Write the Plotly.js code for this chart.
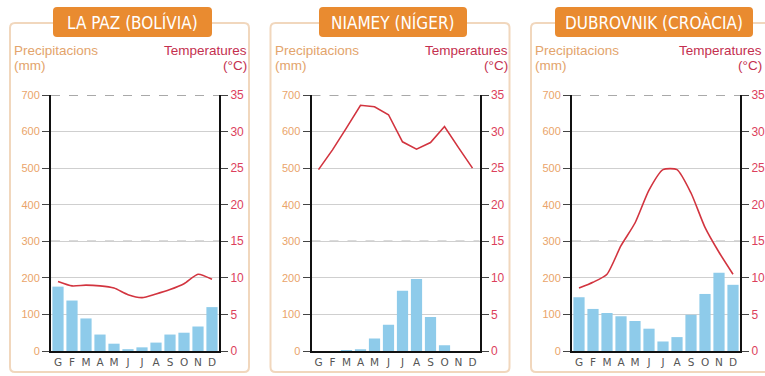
<!DOCTYPE html>
<html><head><meta charset="utf-8">
<script src="https://cdn.plot.ly/plotly-3.0.1.min.js"></script>
<style>html,body{margin:0;padding:0;background:#fff}#c{width:765px;height:376px}</style>
</head><body><div id="c"></div>
<script>
const months = ['G','F','M','A','M','J','J','A','S','O','N','D'];
const cities = ['LA PAZ (BOLÍVIA)','NIAMEY (NÍGER)','DUBROVNIK (CROÀCIA)'];
const precLaPaz = [176,138,89,45,20,5,10,23,45,50,67,120];
const tempLaPaz = [9.5,8.9,9.0,8.9,8.6,7.7,7.3,7.8,8.4,9.2,10.5,9.8];
const precNiamey = [0,0,3,5,34,72,165,197,93,16,0,0];
const tempNiamey = [24.8,27.5,30.5,33.6,33.4,32.3,28.6,27.6,28.5,30.7,27.8,25.0];
const precDubrovnik = [147,115,104,95,82,61,26,38,99,156,214,181];
const tempDubrovnik = [8.6,9.4,10.5,14.4,17.5,22.0,24.8,24.8,21.6,16.9,13.5,10.5];
const precTicks = [0,100,200,300,400,500,600,700];
const tempTicks = [0,5,10,15,20,25,30,35];

const W = 765, H = 376;
const px = x => x / W, py = y => 1 - y / H;
const xIdx = months.map((m, i) => i);
const precs = [precLaPaz, precNiamey, precDubrovnik];
const temps = [tempLaPaz, tempNiamey, tempDubrovnik];
const off = [0, 260.5, 521];

const data = [], layout = {
  width: W, height: H, margin: {l:0,r:0,t:0,b:0}, showlegend: false,
  paper_bgcolor: '#fff', plot_bgcolor: 'rgba(0,0,0,0)',
  shapes: [], annotations: [], bargap: 0.2
};
const narrow = 'DejaVu Sans Condensed, Liberation Sans Narrow, Liberation Sans, sans-serif';
const plain = 'Liberation Sans, Arial, sans-serif';

for (let p = 0; p < 3; p++) {
  const o = off[p];
  const xa = p === 0 ? 'x' : 'x' + (p + 1);
  const yL = 'y' + (p === 0 ? '' : (2 * p + 1));
  const yR = 'y' + (2 * p + 2);
  const xKey = 'xaxis' + (p === 0 ? '' : p + 1);
  const yLKey = 'yaxis' + (p === 0 ? '' : 2 * p + 1);
  const yRKey = 'yaxis' + (2 * p + 2);
  data.push({type:'bar', x:xIdx, y:precs[p], xaxis:xa, yaxis:yL,
    marker:{color:'#8ecbea'}, hoverinfo:'skip'});
  data.push({type:'scatter', mode:'lines', x:xIdx, y:temps[p], xaxis:xa, yaxis:yR,
    line:{color:'#d2343f', width:1.6, shape: p===1 ? 'linear' : 'spline', smoothing:0.6}, hoverinfo:'skip'});
  const dom = [px(51 + o), px(219 + o)];
  layout[xKey] = {domain: dom, anchor: yL, range: [-0.5, 11.5], tickvals: xIdx, ticktext: months,
    showgrid: false, zeroline: false, showline: true, linecolor: '#111', linewidth: 2,
    ticks: '', tickfont: {family: 'DejaVu Sans', size: 10.5, color: '#555'}, fixedrange: true};
  layout[yLKey] = {domain: [py(351), py(95)], anchor: xa, range: [0, 700], tickvals: precTicks,
    showgrid: true, gridcolor: '#cfcfcf', gridwidth: 1, zeroline: false,
    showline: true, linecolor: '#111', linewidth: 2, ticks: 'outside', ticklen: 7, tickcolor: '#444', tickwidth: 1,
    tickfont: {family: plain, size: 11, color: '#eaa46a'}, fixedrange: true};
  layout[yRKey] = {overlaying: yL, side: 'right', anchor: xa, range: [0, 35], tickvals: tempTicks,
    showgrid: false, zeroline: false, showline: true, linecolor: '#111', linewidth: 2,
    ticks: 'outside', ticklen: 7, tickcolor: '#444', tickwidth: 1,
    tickfont: {family: plain, size: 12, color: '#dc3f5c'}, fixedrange: true};
  [700, 300].forEach(v => layout.shapes.push({type:'line', xref: xa + ' domain', yref: yL,
    x0: 0, x1: 1, y0: v, y1: v, line: {color: '#555', width: 1, dash: 'dash'}, layer: 'below'}));
  const fx0 = 10 + o, fx1 = 249 + o, fy0 = 23, fy1 = 372, r = 5;
  layout.shapes.push({type:'path', xref:'paper', yref:'paper', layer:'below',
    path: `M${px(fx0+r)},${py(fy0)} L${px(fx1-r)},${py(fy0)} Q${px(fx1)},${py(fy0)} ${px(fx1)},${py(fy0+r)} L${px(fx1)},${py(fy1-r)} Q${px(fx1)},${py(fy1)} ${px(fx1-r)},${py(fy1)} L${px(fx0+r)},${py(fy1)} Q${px(fx0)},${py(fy1)} ${px(fx0)},${py(fy1-r)} L${px(fx0)},${py(fy0+r)} Q${px(fx0)},${py(fy0)} ${px(fx0+r)},${py(fy0)} Z`,
    line: {color: '#f1d7bd', width: 2}, fillcolor: 'rgba(0,0,0,0)'});
  const tb = [[53, 212], [58.5, 206.5], [34, 232]][p];
  const tx0 = tb[0] + o, tx1 = tb[1] + o, ty0 = 7, ty1 = 37, rr = 4;
  layout.shapes.push({type:'path', xref:'paper', yref:'paper', layer:'above',
    path: `M${px(tx0+rr)},${py(ty0)} L${px(tx1-rr)},${py(ty0)} Q${px(tx1)},${py(ty0)} ${px(tx1)},${py(ty0+rr)} L${px(tx1)},${py(ty1-rr)} Q${px(tx1)},${py(ty1)} ${px(tx1-rr)},${py(ty1)} L${px(tx0+rr)},${py(ty1)} Q${px(tx0)},${py(ty1)} ${px(tx0)},${py(ty1-rr)} L${px(tx0)},${py(ty0+rr)} Q${px(tx0)},${py(ty0)} ${px(tx0+rr)},${py(ty0)} Z`,
    line: {width: 0}, fillcolor: '#e98b30'});
  layout.annotations.push({xref:'paper', yref:'paper', x: px((tx0 + tx1) / 2), y: py(22),
    xanchor:'center', yanchor:'middle', showarrow:false, text: cities[p],
    font: {family: narrow, size: 17, color: '#fff'}});
  const rx = Math.min(249 + o, 764);
  layout.annotations.push({xref:'paper', yref:'paper', x: px(12 + o), y: py(50), xanchor:'left', yanchor:'middle',
    showarrow:false, text:'Precipitacions', font:{family: plain, size: 13.5, color:'#e3a46c'}});
  layout.annotations.push({xref:'paper', yref:'paper', x: px(12 + o), y: py(65), xanchor:'left', yanchor:'middle',
    showarrow:false, text:'(mm)', font:{family: plain, size: 13.5, color:'#e3a46c'}});
  layout.annotations.push({xref:'paper', yref:'paper', x: px(rx), y: py(50), xanchor:'right', yanchor:'middle',
    showarrow:false, text:'Temperatures', font:{family: plain, size: 13.5, color:'#c4304f'}});
  layout.annotations.push({xref:'paper', yref:'paper', x: px(rx), y: py(65), xanchor:'right', yanchor:'middle',
    showarrow:false, text:'(°C)', font:{family: plain, size: 13.5, color:'#c4304f'}});
}

Plotly.newPlot('c', data, layout, {displayModeBar: false, staticPlot: true});
</script></body></html>
